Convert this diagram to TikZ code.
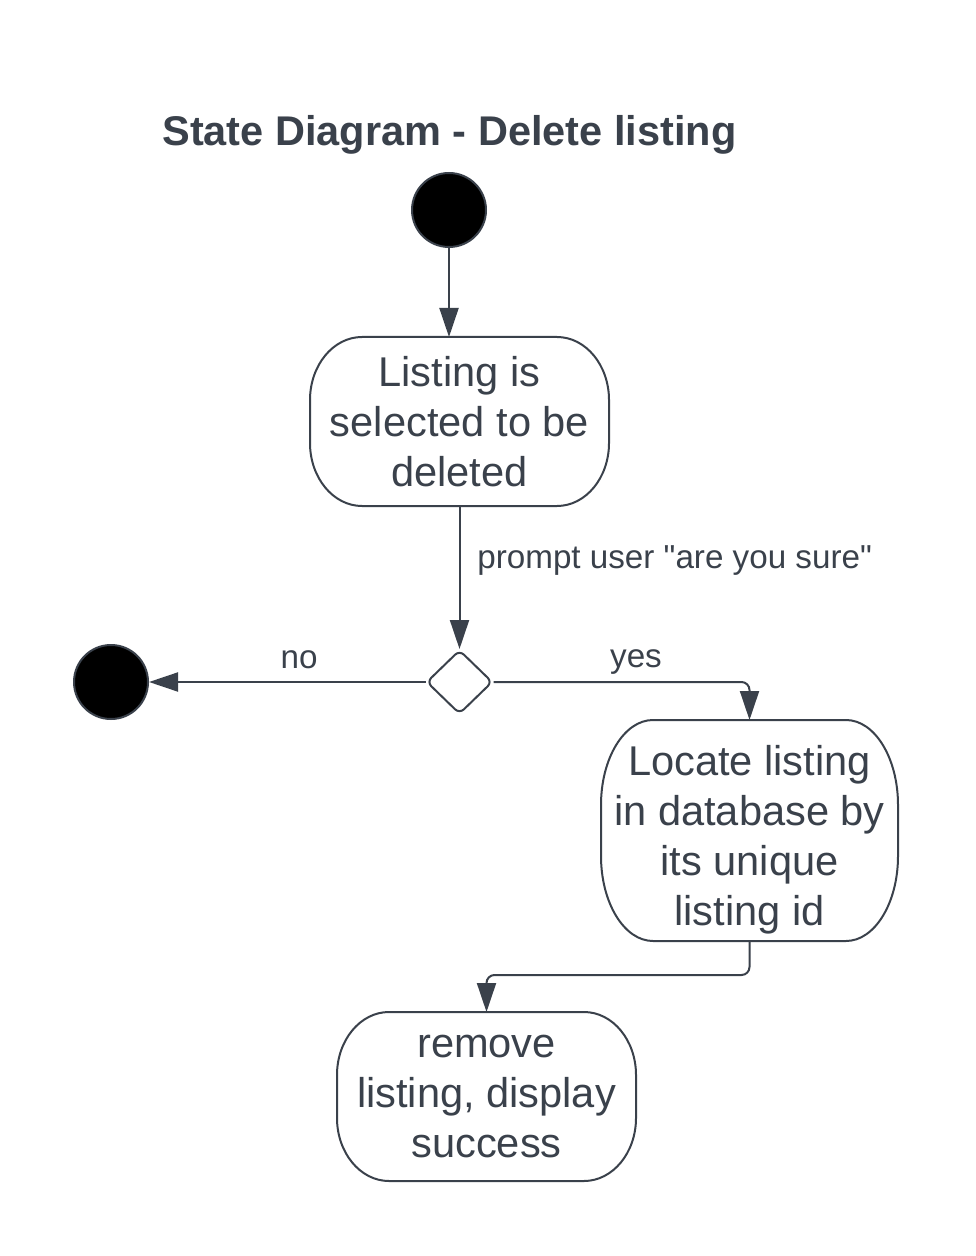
\documentclass[tikz,border=0pt]{standalone}
\usepackage{fontspec}
\setmainfont{Liberation Sans}[Ligatures=TeXOff]
\usepackage{tikz}
\usetikzlibrary{arrows.meta,positioning,calc,shapes.geometric}
\definecolor{inkgray}{RGB}{58,65,75}
\tikzset{
  statebox/.style={draw=none, inner sep=0pt, outer sep=0pt, align=center, text=inkgray, font=\fontsize{20.8}{25}\selectfont},
  frameline/.style={draw=inkgray, line width=1pt},
  startdot/.style={circle, draw=inkgray, fill=black, line width=1pt, minimum size=37pt, inner sep=0pt},
  choice/.style={diamond, draw=inkgray, line width=1pt, minimum width=33pt, minimum height=32pt, inner sep=0pt, rounded corners=3pt},
  flow/.style={draw=inkgray, line width=1pt, rounded corners=4pt, -{Triangle[length=14.5pt,width=9.5pt]}},
  edgelabel/.style={inner sep=0pt, text=inkgray, font=\fontsize{16.6}{20}\selectfont},
  headline/.style={inner sep=0pt, text=inkgray, font=\fontsize{20.75}{25}\selectfont\bfseries}
}
% state outline with elliptic corners
\newcommand{\stateframe}[2]{%
  \draw[frameline]
    ($(#1.north west)+(26pt,0)$) -- ($(#1.north east)+(-26pt,0)$)
    arc[start angle=90, end angle=0, x radius=26pt, y radius=#2]
    -- ($(#1.south east)+(0,#2)$)
    arc[start angle=0, end angle=-90, x radius=26pt, y radius=#2]
    -- ($(#1.south west)+(26pt,0)$)
    arc[start angle=270, end angle=180, x radius=26pt, y radius=#2]
    -- ($(#1.north west)+(0,-#2)$)
    arc[start angle=180, end angle=90, x radius=26pt, y radius=#2]
    -- cycle;}

\begin{document}
\begin{tikzpicture}[x=0.5pt,y=0.5pt]
  \useasboundingbox (0,0) rectangle (975,-1256);

  \node[headline, anchor=base] (head) at (449.5,-146) {State Diagram - Delete listing};

  \node[startdot] (start) at (449,-210) {};
  \node[startdot] (stop) at (111,-682) {};

  \node[statebox, minimum width=149.5pt, minimum height=84.5pt] (sel) at (459.5,-421.5)
    {Listing is\\selected to be\\deleted};
  \stateframe{sel}{31.5pt}

  \node[choice] (dec) at (459.5,-682) {};

  \node[statebox, minimum width=148.5pt, minimum height=110.5pt] (loc) at (749.5,-830.5) {};
  \node[statebox] (loctext) at (749.5,-839.5)
    {Locate listing\\in database by\\its unique\\listing id};
  \stateframe{loc}{42.5pt}

  \node[statebox, minimum width=149.5pt, minimum height=84.5pt] (rem) at (486.5,-1096.5)
    {remove\\listing, display\\success};
  \stateframe{rem}{31.5pt}

  \draw[flow] (start) -- (start |- sel.north);
  \draw[flow] (sel.south) -- (dec.north);
  \draw[flow] (dec.west) -- (stop.east);
  \draw[flow] (dec.east) -| (loc.north);
  \draw[flow] (loc.south) -- ++(0,-34) -| (rem.north);

  \node[edgelabel, anchor=base west] (ask) at (477,-568) {prompt user "are you sure"};
  \node[edgelabel, anchor=base] (nolbl) at (299,-668) {no};
  \node[edgelabel, anchor=base] (yeslbl) at (636,-667) {yes};
\end{tikzpicture}
\end{document}
